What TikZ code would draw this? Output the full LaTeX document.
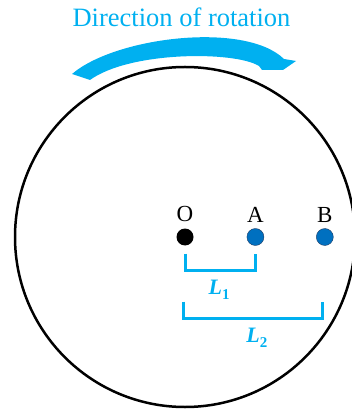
\documentclass[tikz,border=0pt]{standalone}
\usepackage{fontspec}
\setmainfont{Liberation Serif}
\usetikzlibrary{positioning,calc}
\definecolor{rotcyan}{HTML}{00B0F0}
\definecolor{dotblue}{HTML}{0070C0}
\definecolor{dotedge}{HTML}{1F3B63}

\newcommand{\lensym}[1]{{\fontsize{22}{22}\selectfont L}\raisebox{-5pt}{\fontsize{15}{15}\selectfont\upshape #1}}

\tikzset{
  pt/.style={circle, minimum size=17pt, inner sep=0pt},
  ptlabel/.style={inner sep=0pt, font=\fontsize{23}{23}\selectfont},
  bracket/.style={draw=rotcyan, line width=3pt},
  lenlabel/.style={inner sep=0pt, text=rotcyan, font=\bfseries\itshape},
}

\begin{document}
\begin{tikzpicture}[x=1pt, y=-1pt]
\useasboundingbox (0,0) rectangle (351,411);
% title and rotation arrow
\node[anchor=base, inner sep=0pt, text=rotcyan, font=\fontsize{26.5}{26.5}\selectfont] (title) at (181.5,27) {Direction of rotation};
\fill[rotcyan] (72,74) .. controls (115,37) and (245,21) .. (284,59)
  -- (296,61) -- (283,70) -- (262,70) -- (259,66)
  .. controls (235,51) and (130,51) .. (90,80) -- cycle;
% disc
\node[pt, fill=black] (O) at (185,237) {};
\node[draw, circle, line width=2.5pt, minimum size=340pt] (disc) at (O) {};
\node[pt, fill=dotblue, draw=dotedge, thin, right=53pt of O] (A) {};
\node[pt, fill=dotblue, draw=dotedge, thin, right=52pt of A] (B) {};
\node[ptlabel, above=6pt of O] (lO) {O};
\node[ptlabel, above=6pt of A] (lA) {A};
\node[ptlabel, above=6pt of B] (lB) {B};
% distances
\draw[bracket] ([yshift=-8pt]O.south) |- node[pos=0.75, below=8pt, lenlabel, xshift=-1pt] (L1) {\lensym{1}}
  ([yshift=-25pt]A.south) -- ([yshift=-8pt]A.south);
\draw[bracket] ([xshift=-2pt, yshift=-56pt]O.south) |- node[pos=0.75, below=8pt, lenlabel, xshift=4pt] (L2) {\lensym{2}}
  ([xshift=-2pt, yshift=-73pt]B.south) -- ([xshift=-2pt, yshift=-56pt]B.south);
\end{tikzpicture}
\end{document}
